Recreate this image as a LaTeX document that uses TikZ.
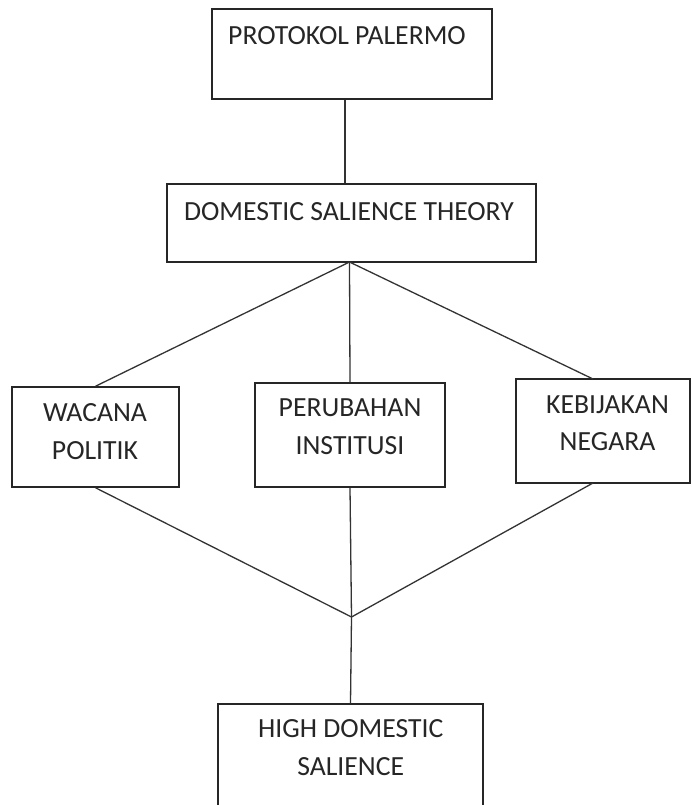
\documentclass[tikz,border=0pt]{standalone}
\usepackage{fontspec}
\setmainfont{Carlito}
\begin{document}
\begin{tikzpicture}[x=1pt,y=-1pt,
  box/.style={draw=black!85, line width=1.5pt, fill=none, rectangle, inner sep=0pt},
  lbl/.style={inner sep=0pt, align=center, text=black!85, font=\fontsize{27.7}{37.5}\selectfont, anchor=base},
  conn/.style={draw=black!80, line width=1.3pt}]
\useasboundingbox (0,0) rectangle (691,805);
% boxes
\node[box, minimum width=280pt, minimum height=90pt] (b1) at (352,54) {};
\node[box, minimum width=369pt, minimum height=78pt] (b2) at (351.5,223) {};
\node[box, minimum width=167pt, minimum height=100pt] (b3) at (95.5,437) {};
\node[box, minimum width=190pt, minimum height=104pt] (b4) at (350,435) {};
\node[box, minimum width=174pt, minimum height=104pt] (b5) at (603,431) {};
\node[box, minimum width=265pt, minimum height=106pt] (b6) at (350.5,757) {};
% texts (base anchor = baseline of the last line)
\node[lbl] (t1) at (347,45) {PROTOKOL PALERMO};
\node[lbl] (t2) at (349,220) {DOMESTIC SALIENCE THEORY};
\node[lbl] (t3) at (95,459) {WACANA\\POLITIK};
\node[lbl] (t4) at (350,454) {PERUBAHAN\\INSTITUSI};
\node[lbl] (t5) at (607.5,450.5) {KEBIJAKAN\\NEGARA};
\node[lbl] (t6) at (350.7,775) {HIGH DOMESTIC\\SALIENCE};
% junctions
\coordinate (top) at (349.5,262);
\coordinate (join) at (351.5,617);
\coordinate (k5n) at (593,379);
\coordinate (k5s) at (593,483);
% connectors
\draw[conn] (b1.south -| 345,0) -- (b2.north -| 345,0);
\draw[conn] (top) -- (b3.north);
\draw[conn] (top) -- (b4.north);
\draw[conn] (top) -- (k5n);
\draw[conn] (b3.south) -- (join);
\draw[conn] (b4.south) -- (join);
\draw[conn] (k5s) -- (join);
\draw[conn] (join) -- (b6.north);
\end{tikzpicture}
\end{document}
